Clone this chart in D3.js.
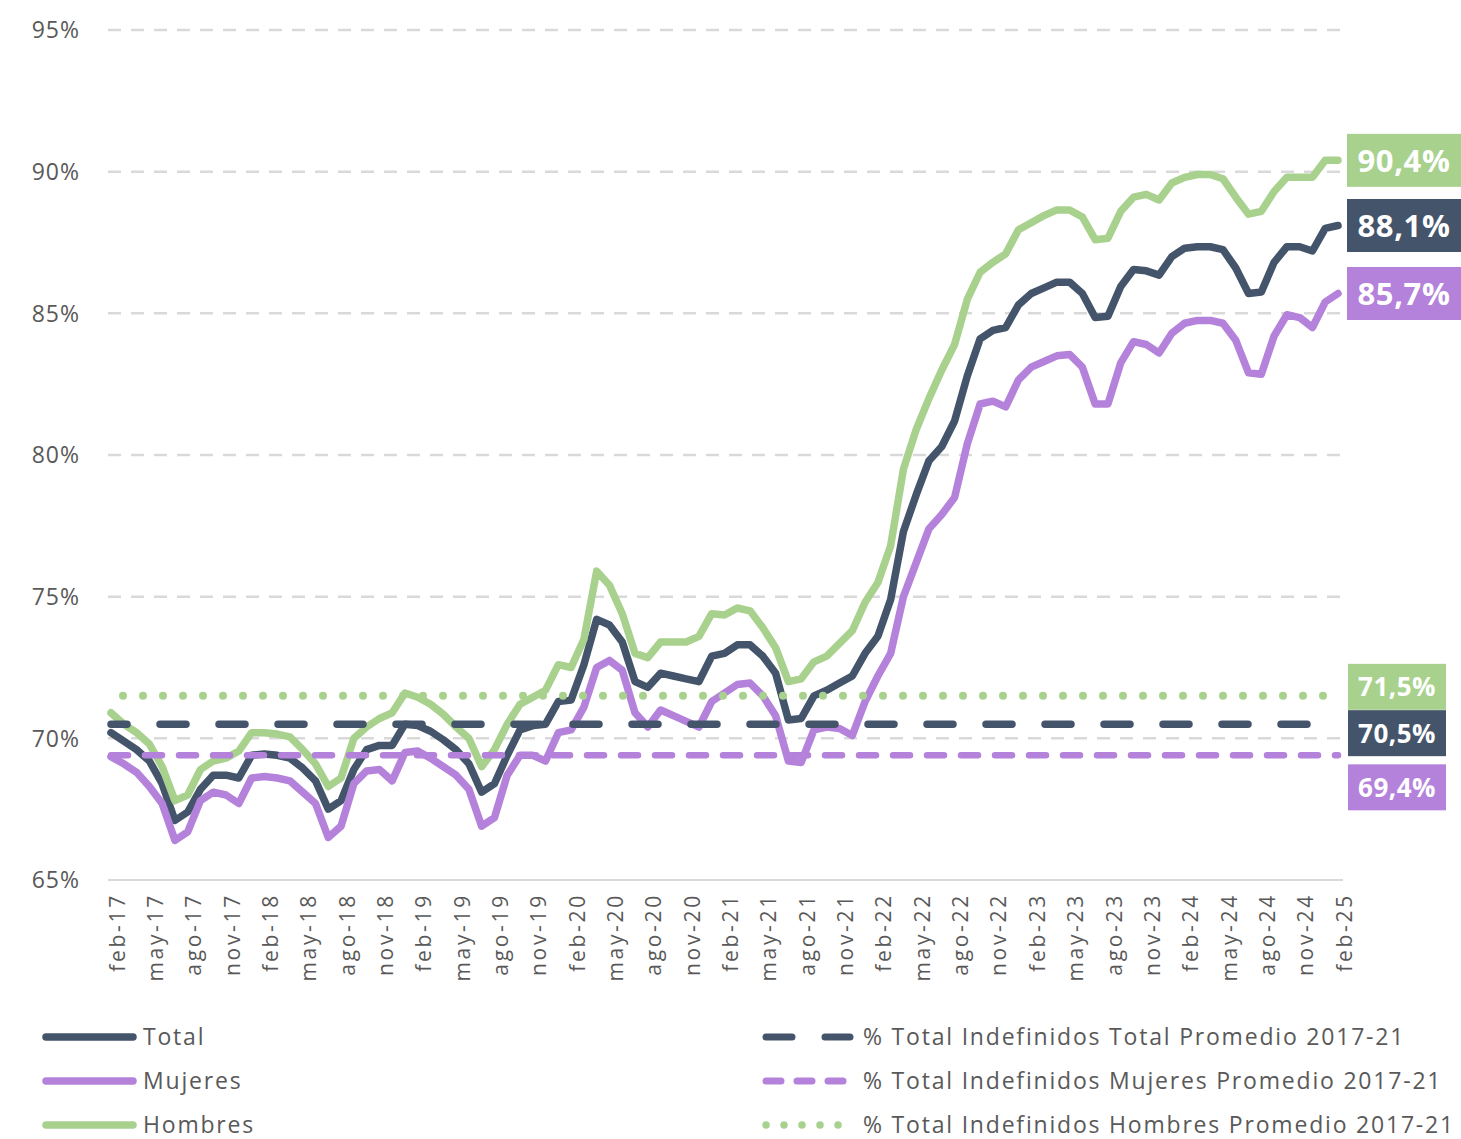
<!DOCTYPE html>
<html>
<head>
<meta charset="utf-8">
<script src="https://cdn.jsdelivr.net/npm/d3@7"></script>
<style>
  body { margin: 0; background: #fff; }
  svg { font-family: "Open Sans", sans-serif; }
  .axis-label { fill: #595959; }
  .end-label { fill: #fff; font-weight: bold; }
</style>
</head>
<body>
<div id="chart"></div>
<script>
// month categories feb-17 .. feb-25
const monthNames = ['ene', 'feb', 'mar', 'abr', 'may', 'jun', 'jul', 'ago', 'sep', 'oct', 'nov', 'dic'];
const months = [];
for (let k = 0; k < 97; k++) {
  const m = (1 + k) % 12;
  const yy = 17 + Math.floor((1 + k) / 12);
  months.push(`${monthNames[m]}-${yy}`);
}

const total = [
  70.2, 69.9, 69.6, 69.2, 68.4, 67.1, 67.4, 68.2, 68.7, 68.7, 68.6, 69.4,
  69.45, 69.4, 69.3, 68.95, 68.5, 67.5, 67.8, 68.9, 69.6, 69.75, 69.75, 70.5,
  70.45, 70.25, 69.95, 69.6, 69.1, 68.1, 68.4, 69.4, 70.3, 70.45, 70.5, 71.3,
  71.35, 72.6, 74.2, 74.0, 73.4, 72.0, 71.8, 72.3, 72.2, 72.1, 72.0, 72.9,
  73.0, 73.3, 73.3, 72.9, 72.3, 70.65, 70.7, 71.5, 71.7, 71.95, 72.2, 73.0,
  73.6, 74.9, 77.3, 78.6, 79.8, 80.3, 81.2, 82.8, 84.1, 84.4, 84.5, 85.3,
  85.7, 85.9, 86.1, 86.1, 85.7, 84.85, 84.9, 85.95, 86.55, 86.5, 86.35, 87.0,
  87.3, 87.35, 87.35, 87.25, 86.6, 85.7, 85.75, 86.8, 87.35, 87.35, 87.2, 88.0,
  88.1
];
const mujeres = [
  69.35, 69.1, 68.8, 68.3, 67.7, 66.4, 66.7, 67.8, 68.1, 68.0, 67.7, 68.6,
  68.65, 68.6, 68.5, 68.1, 67.7, 66.5, 66.9, 68.4, 68.85, 68.9, 68.5, 69.5,
  69.55, 69.3, 69.0, 68.7, 68.2, 66.9, 67.2, 68.7, 69.4, 69.4, 69.2, 70.2,
  70.3, 71.1, 72.5, 72.75, 72.4, 70.9, 70.4, 71.0, 70.8, 70.6, 70.4, 71.3,
  71.6, 71.9, 71.95, 71.5, 70.8, 69.2, 69.15, 70.3, 70.4, 70.35, 70.1, 71.3,
  72.2, 73.0, 75.0, 76.2, 77.4, 77.9, 78.5, 80.4, 81.8, 81.9, 81.7, 82.65,
  83.1, 83.3, 83.5, 83.55, 83.1, 81.8, 81.8, 83.25, 84.0, 83.9, 83.6, 84.3,
  84.65, 84.75, 84.75, 84.65, 84.05, 82.9, 82.85, 84.2, 84.95, 84.85, 84.5, 85.4,
  85.7
];
const hombres = [
  70.9, 70.5, 70.2, 69.8, 69.0, 67.8, 68.0, 68.9, 69.2, 69.3, 69.55, 70.2,
  70.2, 70.15, 70.05, 69.6, 69.1, 68.3, 68.6, 70.0, 70.4, 70.7, 70.9, 71.6,
  71.45, 71.2, 70.85, 70.4, 70.0, 69.0, 69.6, 70.5, 71.2, 71.45, 71.7, 72.6,
  72.5, 73.5, 75.9, 75.4, 74.4, 73.0, 72.85, 73.4, 73.4, 73.4, 73.6, 74.4,
  74.35, 74.6, 74.5, 73.9, 73.2, 72.0, 72.1, 72.7, 72.9, 73.35, 73.8, 74.8,
  75.5, 76.8, 79.5, 80.9, 82.0, 83.0, 83.9, 85.5, 86.45, 86.8, 87.1, 87.95,
  88.2, 88.45, 88.65, 88.65, 88.4, 87.6, 87.65, 88.6, 89.1, 89.2, 89.0, 89.6,
  89.8, 89.9, 89.9, 89.75, 89.1, 88.5, 88.6, 89.3, 89.8, 89.8, 89.8, 90.4,
  90.4
];

// promedios 2017-21
const promTotal = 70.5;
const promMujeres = 69.4;
const promHombres = 71.5;

const yTicks = [65, 70, 75, 80, 85, 90, 95];

const colors = { total: '#44546A', mujeres: '#B482DA', hombres: '#A9D18E' };
const fmt = v => d3.format('.1f')(v).replace('.', ',') + '%';

const W = 1461, H = 1139;
const svg = d3.select('#chart').append('svg').attr('width', W).attr('height', H);

const x = d3.scalePoint().domain(months).range([111, 1338]);
const y = d3.scaleLinear().domain([65, 95]).range([880, 30]);
const gridX0 = 108, gridX1 = 1343;

// grid
svg.append('g')
  .selectAll('line')
  .data(yTicks)
  .join('line')
  .attr('x1', gridX0)
  .attr('x2', gridX1)
  .attr('y1', d => y(d))
  .attr('y2', d => y(d))
  .attr('stroke', '#D9D9D9')
  .attr('stroke-width', d => (d === 65 ? 2 : 2.5))
  .attr('stroke-dasharray', d => (d === 65 ? null : '13,10'));

// y axis labels
svg.append('g')
  .selectAll('text')
  .data(yTicks)
  .join('text')
  .attr('class', 'axis-label')
  .attr('x', 80)
  .attr('y', d => y(d))
  .attr('dy', '0.36em')
  .attr('text-anchor', 'end')
  .style('font-size', '23px')
  .style('letter-spacing', '1px')
  .text(d => d + '%');

// x axis labels every 3 months
svg.append('g')
  .selectAll('text')
  .data(months.filter((d, i) => i % 3 === 0))
  .join('text')
  .attr('class', 'axis-label')
  .attr('transform', d => `translate(${x(d) + 6},893) rotate(-90)`)
  .attr('dy', '0.36em')
  .attr('text-anchor', 'end')
  .style('font-size', '21px')
  .style('letter-spacing', '2.7px')
  .text(d => d);

const line = d3.line()
  .x((d, i) => x(months[i]))
  .y(d => y(d));

const series = [
  { key: 'total', values: total },
  { key: 'mujeres', values: mujeres },
  { key: 'hombres', values: hombres },
];

svg.append('g')
  .selectAll('path')
  .data(series)
  .join('path')
  .attr('d', d => line(d.values))
  .attr('fill', 'none')
  .attr('stroke', d => colors[d.key])
  .attr('stroke-width', 7.5)
  .attr('stroke-linejoin', 'round')
  .attr('stroke-linecap', 'round');

// promedio lines
const proms = [
  { key: 'total', value: promTotal, dash: '26,33', offset: 10, width: 7.5, dy: 9 },
  { key: 'mujeres', value: promMujeres, dash: '17,17', offset: 0, width: 6.5, dy: 32 },
  { key: 'hombres', value: promHombres, dash: '0,20', offset: 8, width: 8, dy: -9 },
];

svg.append('g')
  .selectAll('line')
  .data(proms)
  .join('line')
  .attr('x1', x(months[0]))
  .attr('x2', x(months[months.length - 1]))
  .attr('y1', d => y(d.value))
  .attr('y2', d => y(d.value))
  .attr('stroke', d => colors[d.key])
  .attr('stroke-width', d => d.width)
  .attr('stroke-linecap', 'round')
  .attr('stroke-dasharray', d => d.dash)
  .attr('stroke-dashoffset', d => d.offset);

// end labels for series
const last = series.map(s => ({ key: s.key, value: s.values[s.values.length - 1] }));
const endG = svg.append('g')
  .selectAll('g')
  .data(last)
  .join('g')
  .attr('transform', d => `translate(1347,${y(d.value)})`);
endG.append('rect')
  .attr('x', 0)
  .attr('y', -26.5)
  .attr('width', 114)
  .attr('height', 53)
  .attr('fill', d => colors[d.key]);
endG.append('text')
  .attr('class', 'end-label')
  .attr('x', 57)
  .attr('dy', '0.36em')
  .attr('text-anchor', 'middle')
  .style('font-size', '31px')
  .style('letter-spacing', '0.6px')
  .text(d => fmt(d.value));

// labels for promedios
const promG = svg.append('g')
  .selectAll('g')
  .data(proms)
  .join('g')
  .attr('transform', d => `translate(1348,${y(d.value) + d.dy})`);
promG.append('rect')
  .attr('x', 0)
  .attr('y', -23)
  .attr('width', 98)
  .attr('height', 46)
  .attr('fill', d => colors[d.key]);
promG.append('text')
  .attr('class', 'end-label')
  .attr('x', 49)
  .attr('dy', '0.36em')
  .attr('text-anchor', 'middle')
  .style('font-size', '26px')
  .style('letter-spacing', '0.5px')
  .text(d => fmt(d.value));

// legend
const legendLeft = [
  { key: 'total', label: 'Total' },
  { key: 'mujeres', label: 'Mujeres' },
  { key: 'hombres', label: 'Hombres' },
];
const legendRight = [
  { key: 'total', label: '% Total Indefinidos Total Promedio 2017-21', dash: '26,33' },
  { key: 'mujeres', label: '% Total Indefinidos Mujeres Promedio 2017-21', dash: '15,16' },
  { key: 'hombres', label: '% Total Indefinidos Hombres Promedio 2017-21', dash: '0,18' },
];
const rowY = [1037, 1081, 1125];

const lg = svg.append('g');
legendLeft.forEach((d, i) => {
  lg.append('line')
    .attr('x1', 46).attr('x2', 133)
    .attr('y1', rowY[i]).attr('y2', rowY[i])
    .attr('stroke', colors[d.key])
    .attr('stroke-width', 7.5)
    .attr('stroke-linecap', 'round');
  lg.append('text')
    .attr('class', 'axis-label')
    .attr('x', 143).attr('y', rowY[i])
    .attr('dy', '0.36em')
    .style('font-size', '23px')
    .style('letter-spacing', '1.8px')
    .text(d.label);
});
legendRight.forEach((d, i) => {
  lg.append('line')
    .attr('x1', 766).attr('x2', 850)
    .attr('y1', rowY[i]).attr('y2', rowY[i])
    .attr('stroke', colors[d.key])
    .attr('stroke-width', i === 2 ? 7.5 : 7)
    .attr('stroke-linecap', 'round')
    .attr('stroke-dasharray', d.dash);
  lg.append('text')
    .attr('class', 'axis-label')
    .attr('x', 863).attr('y', rowY[i])
    .attr('dy', '0.36em')
    .style('font-size', '23px')
    .style('letter-spacing', '1.8px')
    .text(d.label);
});
</script>
</body>
</html>
